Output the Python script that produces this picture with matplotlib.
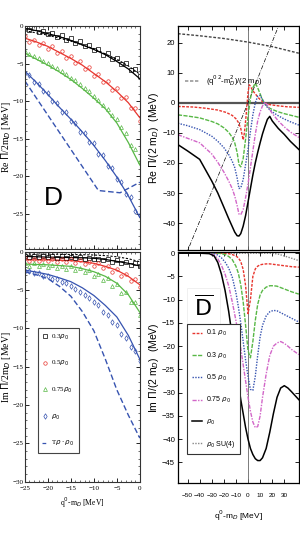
import numpy as np
import matplotlib
matplotlib.use('Agg')
import matplotlib.pyplot as plt
from matplotlib.lines import Line2D
from matplotlib.ticker import MultipleLocator

SERIF = ['Liberation Serif', 'DejaVu Serif']
NARROW = ['Liberation Sans Narrow', 'Liberation Sans', 'DejaVu Sans']

# ---------------- left panels (D), q0 - m_D in MeV ----------------
x_line = [-25, -22.5, -20, -17.5, -15, -12.5, -10, -7.5, -5, -2.5, 0]
re_03 = [-0.3, -0.6, -1.0, -1.4, -1.9, -2.5, -3.1, -3.8, -4.7, -5.7, -7.0]
re_03_dash = [-0.6, -0.9, -1.2, -1.6, -2.0, -2.5, -3.0, -3.7, -4.4, -5.3, -6.4]
re_05 = [-1.6, -2.1, -2.7, -3.5, -4.3, -5.2, -6.3, -7.4, -8.7, -10.2, -12.2]
re_075 = [-3.6, -4.4, -5.2, -6.1, -7.1, -8.3, -9.6, -11.0, -12.9, -15.5, -18.5]
re_10 = [-6.0, -7.5, -9.1, -10.8, -12.4, -14.1, -15.9, -17.9, -20.1, -22.6, -25.5]
x_trho = [-25, -9.0, -4.3, 0]
re_trho = [-7.3, -21.9, -22.2, -20.8]

im_03 = [-0.6, -0.65, -0.7, -0.72, -0.75, -0.78, -0.85, -1.0, -1.25, -1.5, -1.85]
im_03_dash = [-0.3, -0.3, -0.3, -0.32, -0.35, -0.38, -0.42, -0.5, -0.65, -0.9, -1.3]
im_05 = [-1.05, -1.05, -1.05, -1.1, -1.15, -1.3, -1.5, -1.9, -2.4, -3.2, -4.3]
im_075 = [-1.6, -1.65, -1.7, -1.8, -1.9, -2.2, -2.6, -3.2, -4.1, -5.6, -7.9]
im_10 = [-2.4, -2.65, -2.95, -3.4, -3.9, -4.7, -5.7, -7.0, -8.5, -10.9, -14.0]
im_trho = [-2.6, -3.0, -3.5, -4.5, -5.8, -7.8, -10.3, -14.0, -18.0, -21.3, -24.3]

# data points (every 1 MeV)
x_pts = np.arange(-25, 1)
re_03_pts = [-0.1, -0.5, -0.3, -0.8, -0.6, -1.1, -0.9, -1.4, -1.2, -1.8, -1.6, -2.3, -2.0,
             -2.7, -2.5, -3.2, -3.0, -3.8, -3.6, -4.4, -4.2, -5.0, -4.9, -5.8, -5.7, -6.6]
re_05_pts = [-1.3, -2.1, -1.8, -2.5, -2.2, -3.0, -2.7, -3.6, -3.3, -4.3, -4.0, -4.9, -4.7,
             -5.7, -5.5, -6.6, -6.4, -7.5, -7.3, -8.5, -8.3, -9.6, -9.5, -10.9, -10.9, -12.6]
re_075_pts = [-3.3, -3.7, -4.0, -4.3, -4.7, -4.9, -5.3, -5.6, -6.0, -6.4, -6.9, -7.2, -7.7,
              -8.3, -8.7, -9.3, -9.8, -10.5, -11.0, -11.9, -12.4, -13.5, -14.3, -15.8, -16.4, -18.0]
re_10_pts = [-6.3, -6.5, -7.5, -7.7, -8.7, -8.9, -10.0, -10.3, -11.4, -11.5, -12.7, -12.9, -14.1,
             -14.3, -15.5, -15.6, -17.0, -17.2, -18.6, -18.9, -20.4, -20.8, -22.4, -22.8, -24.6, -25.2]
im_03_pts = [-0.5, -0.7, -0.5, -0.7, -0.6, -0.7, -0.6, -0.8, -0.6, -0.8, -0.7, -0.8, -0.7,
             -0.9, -0.8, -1.0, -0.9, -1.1, -1.0, -1.3, -1.1, -1.5, -1.3, -1.7, -1.5, -1.9]
im_05_pts = [-0.8, -1.2, -0.9, -1.2, -0.9, -1.2, -0.9, -1.3, -1.0, -1.3, -1.0, -1.4, -1.1,
             -1.6, -1.3, -1.8, -1.5, -2.1, -1.8, -2.6, -2.2, -3.1, -2.9, -3.8, -3.6, -4.6]
im_075_pts = [-1.4, -1.8, -1.5, -1.9, -1.6, -2.0, -1.7, -2.1, -1.8, -2.2, -1.9, -2.4, -2.1,
              -2.7, -2.4, -3.1, -2.9, -3.7, -3.4, -4.5, -4.2, -5.4, -5.3, -6.6, -6.6, -8.2]
im_10_pts = [-2.5, -2.5, -2.8, -2.8, -3.1, -3.1, -3.5, -3.6, -4.0, -4.1, -4.5, -4.8, -5.2,
             -5.6, -6.0, -6.6, -7.0, -7.8, -8.2, -9.2, -9.6, -10.7, -11.3, -12.4, -13.0, -14.2]

left_labels = ['0.3$\\rho_0$', '0.5$\\rho_0$', '0.75$\\rho_0$', '$\\rho_0$', 'T$\\rho\\cdot\\rho_0$']

# ---------------- right panels (D-bar) ----------------
x_re = [-58, -50, -40, -30, -25, -20, -16, -13, -11, -9, -7.5, -6, -4, -2, 0, 2, 4, 6, 8,
        10, 12, 14, 16, 18, 20, 25, 30, 35, 42]
x_re_red = [-58, -45, -35, -25, -18, -13, -10, -8, -6, -5, -4, -3, -2, -1, 0, 1, 2, 4, 6,
            9, 13, 18, 25, 32, 42]
re_d01 = [-1.2, -1.4, -1.8, -2.4, -3.2, -4.2, -5.3, -6.5, -8.5, -10.5, -12.3, -10.0, -6.0,
          -1.5, 3.5, 6.0, 5.5, 4.0, 3.0, 1.5, 0.0, -0.6, -1.0, -1.3, -1.5]
re_d03 = [-4.0, -4.4, -5.0, -6.2, -7.0, -8.3, -9.8, -11.5, -13.3, -16.5, -20.5, -21.3, -18.5,
          -12.0, -4.5, 1.5, 5.0, 6.6, 5.0, 3.0, 1.0, -0.3, -1.2, -1.8, -2.2, -3.0, -3.6, -4.1, -4.8]
re_d05 = [-6.8, -7.6, -8.9, -11.1, -12.8, -14.9, -17.2, -19.5, -21.5, -25.0, -28.5, -28.3, -25.5,
          -20.5, -15.5, -9.5, -4.0, 0.0, 2.2, 2.5, 1.0, -0.5, -1.5, -2.3, -3.0, -4.3, -5.4, -6.3, -7.4]
re_d075 = [-10.6, -11.8, -13.3, -17.0, -19.8, -23.0, -26.0, -28.6, -31.0, -34.2, -37.0, -37.2, -35.5,
           -31.5, -27.0, -21.5, -16.0, -10.5, -6.0, -3.0, -1.0, 0.2, -0.8, -2.3, -3.5, -6.0, -8.0, -9.7, -11.5]
re_d10 = [-13.9, -16.0, -18.8, -26.0, -30.0, -34.7, -38.5, -41.2, -43.0, -44.2, -44.3, -43.5, -41.0,
          -37.5, -33.0, -28.5, -24.0, -20.0, -16.5, -13.3, -10.3, -7.8, -5.5, -4.5, -6.0, -8.5, -10.5, -12.8, -15.5]
x_su4_re = [-58, -40, -20, 0, 20, 42]
re_su4 = [23.0, 22.3, 21.4, 20.2, 18.7, 16.5]
x_free = [-58, 0, 42]
re_free = [-57.1, 0.0, 42.5]

x_im = [-58, -40, -32, -28, -25, -22, -19, -16, -13, -10, -8, -6, -4, -2, 0, 2, 4, 6, 8,
        10, 12, 15, 18, 21, 24, 27, 30, 33, 36, 42]
im_d01 = [0, 0, 0, 0, 0, 0, -0.05, -0.1, -0.3, -0.6, -1.0, -1.8, -3.5, -7.0, -13.0, -10.0,
          -5.0, -3.4, -2.8, -2.5, -2.4, -2.3, -2.3, -2.4, -2.5, -2.6, -2.7, -2.8, -2.9, -3.0]
im_d03 = [0, 0, 0, 0, 0, -0.1, -0.3, -0.7, -1.4, -2.8, -4.3, -6.8, -10.5, -15.5, -21.0, -22.5,
          -19.0, -14.5, -11.0, -9.0, -8.0, -7.3, -7.0, -7.0, -7.1, -7.4, -7.7, -8.0, -8.3, -8.8]
im_d05 = [0, 0, 0, -0.1, -0.4, -1.0, -1.9, -3.2, -5.2, -8.5, -11.5, -15.0, -19.0, -23.0, -26.5,
          -29.3, -29.5, -26.5, -22.0, -18.0, -15.5, -13.5, -12.6, -12.3, -12.4, -12.8, -13.2,
          -13.6, -14.0, -14.8]
im_d075 = [0, 0, 0, -0.4, -1.2, -2.6, -4.5, -7.0, -10.5, -14.5, -17.5, -20.5, -24.0, -27.5, -31.0,
           -34.0, -36.3, -37.5, -37.3, -35.0, -31.0, -26.0, -22.0, -20.0, -19.3, -19.0, -19.4,
           -20.0, -20.7, -21.8]
im_d10 = [0, 0, -0.1, -0.6, -2.0, -4.5, -8.0, -12.5, -18.0, -24.5, -28.0, -31.5, -34.5, -37.5,
          -40.0, -42.0, -43.3, -44.2, -44.6, -44.6, -44.0, -42.0, -38.5, -34.5, -31.0, -29.0,
          -28.5, -29.0, -29.8, -31.5]
x_su4_im = [-58, 20, 25, 30, 35, 42]
im_su4 = [0, 0, -0.2, -0.6, -1.0, -1.6]
right_labels = ['0.1 $\\rho_0$', '0.3 $\\rho_0$', '0.5 $\\rho_0$', '0.75 $\\rho_0$',
                '$\\rho_0$', '$\\rho_0$ SU(4)']

RED, GREEN, BLUE, MAG = '#e8352e', '#58b846', '#3653b0', '#d266c8'

fig = plt.figure(figsize=(3.0, 5.45), dpi=100)

# ---------- top-left ----------
axA = fig.add_axes([0.083, 0.543, 0.383, 0.409])
axA.plot(x_line, re_03, color='black', lw=0.9)
axA.plot(x_line, re_03_dash, color='black', lw=0.8, ls=(0, (2, 1.5)))
axA.plot(x_line, re_05, color=RED, lw=0.9)
axA.plot(x_line, re_075, color=GREEN, lw=0.9)
axA.plot(x_line, re_10, color=BLUE, lw=0.9)
axA.plot(x_trho, re_trho, color=BLUE, lw=1.0, ls=(0, (4, 2)))
axA.plot(x_pts, re_03_pts, 's', ms=2.5, mfc='none', mec='black', mew=0.5)
axA.plot(x_pts, re_05_pts, 'o', ms=2.5, mfc='none', mec=RED, mew=0.5)
axA.plot(x_pts, re_075_pts, '^', ms=2.8, mfc='none', mec=GREEN, mew=0.5)
axA.plot(x_pts, re_10_pts, 'd', ms=2.8, mfc='none', mec=BLUE, mew=0.5)
axA.text(0.25, 0.23, 'D', transform=axA.transAxes, fontsize=19, family=NARROW,
         ha='center', va='center')
axA.set_ylim(-29.7, 0)
axA.set_yticks([0, -5, -10, -15, -20, -25])
axA.set_ylabel('Re $\\Pi$/2m$_D$ [MeV]', family=SERIF, fontsize=7)

# ---------- bottom-left ----------
axB = fig.add_axes([0.083, 0.116, 0.383, 0.422])
axB.plot(x_line, im_03, color='black', lw=0.9)
axB.plot(x_line, im_03_dash, color='black', lw=0.8, ls=(0, (2, 1.5)))
axB.plot(x_line, im_05, color=RED, lw=0.9)
axB.plot(x_line, im_075, color=GREEN, lw=0.9)
axB.plot(x_line, im_10, color=BLUE, lw=0.9)
axB.plot(x_line, im_trho, color=BLUE, lw=1.0, ls=(0, (4, 2)))
axB.plot(x_pts, im_03_pts, 's', ms=2.5, mfc='none', mec='black', mew=0.5)
axB.plot(x_pts, im_05_pts, 'o', ms=2.5, mfc='none', mec=RED, mew=0.5)
axB.plot(x_pts, im_075_pts, '^', ms=2.8, mfc='none', mec=GREEN, mew=0.5)
axB.plot(x_pts, im_10_pts, 'd', ms=2.8, mfc='none', mec=BLUE, mew=0.5)
axB.set_ylim(-30, 0)
axB.set_yticks([0, -5, -10, -15, -20, -25, -30])
axB.set_ylabel('Im $\\Pi$/2m$_D$ [MeV]', family=SERIF, fontsize=7)
axB.set_xlabel('q$^0$-m$_D$ [MeV]', family=SERIF, fontsize=5.5, labelpad=3)
left_handles = [
    Line2D([], [], marker='s', ls='none', ms=2.5, mfc='none', mec='black', mew=0.5),
    Line2D([], [], marker='o', ls='none', ms=2.5, mfc='none', mec=RED, mew=0.5),
    Line2D([], [], marker='^', ls='none', ms=2.8, mfc='none', mec=GREEN, mew=0.5),
    Line2D([], [], marker='d', ls='none', ms=2.8, mfc='none', mec=BLUE, mew=0.5),
    Line2D([], [], color=BLUE, lw=0.9, ls=(0, (3, 2))),
]
legB = axB.legend(left_handles, left_labels, loc='lower left', bbox_to_anchor=(0.08, 0.11),
                  prop={'family': SERIF, 'size': 5}, labelspacing=2.5, handlelength=0.8,
                  handletextpad=0.4, borderpad=0.7, fancybox=False, edgecolor='#444444',
                  framealpha=1)
legB.get_frame().set_linewidth(0.8)

for ax in (axA, axB):
    ax.set_xlim(-25, 0)
    ax.set_xticks([-25, -20, -15, -10, -5, 0])
    ax.xaxis.set_minor_locator(MultipleLocator(1))
    ax.yaxis.set_minor_locator(MultipleLocator(1))
    ax.tick_params(which='both', direction='in', top=True, right=True, labelsize=5, pad=1)
    ax.tick_params(which='major', length=3, width=0.6)
    ax.tick_params(which='minor', length=1.5, width=0.4)
    for lab in ax.get_xticklabels() + ax.get_yticklabels():
        lab.set_family(SERIF)
    for sp in ax.spines.values():
        sp.set_linewidth(0.8)
        sp.set_color('#333333')
    ax.yaxis.set_label_coords(-0.1, 0.5)
axA.tick_params(labelbottom=False)
axB.tick_params(axis='x', pad=3)

# ---------- top-right ----------
axC = fig.add_axes([0.593, 0.541, 0.403, 0.411])
axC.axhline(0, color='#555555', lw=1.6)
axC.axvline(0, color='#666666', lw=0.6)
axC.plot(x_free, re_free, color='black', lw=0.5, ls=(0, (6, 2, 1, 2)))
axC.plot(x_su4_re, re_su4, color='#444444', lw=1.0, ls=(0, (2, 1.2)))
axC.plot(x_re_red, re_d01, color=RED, lw=1.0, ls=(0, (2, 1)))
axC.plot(x_re, re_d03, color=GREEN, lw=1.0, ls=(0, (3, 1)))
axC.plot(x_re, re_d05, color=BLUE, lw=1.0, ls=(0, (1, 1)))
axC.plot(x_re, re_d075, color=MAG, lw=1.0, ls=(0, (3, 1, 1, 1)))
axC.plot(x_re, re_d10, color='black', lw=1.1)
axC.set_ylim(-49, 25.5)
axC.set_yticks([20, 10, 0, -10, -20, -30, -40])
axC.set_ylabel('Re $\\Pi$/(2 m$_D$)  (MeV)', family=NARROW, fontsize=7.5)
legC = axC.legend([Line2D([], [], color='#999999', lw=1.2, ls=(0, (2, 1)))],
                  ['(q$^{0\\,2}$-m$_D^2$)/(2 m$_D$)'], loc='upper left',
                  bbox_to_anchor=(0.0, 0.82), frameon=False,
                  prop={'family': NARROW, 'size': 5.5}, handlelength=1.8, handletextpad=1.0)

# ---------- bottom-right ----------
axD = fig.add_axes([0.593, 0.114, 0.403, 0.424])
axD.axvline(0, color='#666666', lw=0.6)
axD.plot(x_su4_im, im_su4, color='#888888', lw=1.0, ls=(0, (1, 1)))
axD.plot(x_im, im_d01, color=RED, lw=1.0, ls=(0, (2, 1)))
axD.plot(x_im, im_d03, color=GREEN, lw=1.0, ls=(0, (3, 1)))
axD.plot(x_im, im_d05, color=BLUE, lw=1.0, ls=(0, (1, 1)))
axD.plot(x_im, im_d075, color=MAG, lw=1.0, ls=(0, (3, 1, 1, 1)))
axD.plot(x_im, im_d10, color='black', lw=1.1)
axD.set_ylim(-49.4, 0.3)
axD.set_yticks([0, -5, -10, -15, -20, -25, -30, -35, -40, -45])
axD.set_ylabel('Im $\\Pi$/(2 m$_D$)  (MeV)', family=NARROW, fontsize=7.5)
axD.set_xlabel('q$^0$-m$_D$ [MeV]', family=NARROW, fontsize=6, labelpad=8)
axD.text(0.21, 0.76, '$\\overline{\\mathrm{D}}$', transform=axD.transAxes, fontsize=16,
         ha='center', va='center',
         bbox=dict(boxstyle='square,pad=0.3', fc='white', ec='#eeeeee', lw=0.6))
right_handles = [
    Line2D([], [], color=RED, lw=1.0, ls=(0, (2, 1))),
    Line2D([], [], color=GREEN, lw=1.0, ls=(0, (3, 1))),
    Line2D([], [], color=BLUE, lw=1.0, ls=(0, (1, 1))),
    Line2D([], [], color=MAG, lw=1.0, ls=(0, (3, 1, 1, 1))),
    Line2D([], [], color='black', lw=1.1),
    Line2D([], [], color='#888888', lw=1.0, ls=(0, (1, 1))),
]
legD = axD.legend(right_handles, right_labels, loc='lower left', bbox_to_anchor=(0.05, 0.11),
                  prop={'family': NARROW, 'size': 5}, labelspacing=1.75, handlelength=1.5,
                  handletextpad=0.6, borderpad=0.6, fancybox=False, edgecolor='#333333',
                  framealpha=1)
legD.get_frame().set_linewidth(0.8)

for ax in (axC, axD):
    ax.set_xlim(-58, 42)
    ax.set_xticks([-50, -40, -30, -20, -10, 0, 10, 20, 30])
    ax.tick_params(which='both', direction='in', top=True, right=True, labelsize=5.5,
                   length=3, width=0.6, pad=2)
    for lab in ax.get_xticklabels() + ax.get_yticklabels():
        lab.set_family(NARROW)
    for sp in ax.spines.values():
        sp.set_linewidth(0.9)
    ax.yaxis.set_label_coords(-0.14, 0.5)
axD.tick_params(axis='x', pad=7, labelsize=4.6)
axC.tick_params(labelbottom=False)

fig.savefig('out.png', dpi=100)
